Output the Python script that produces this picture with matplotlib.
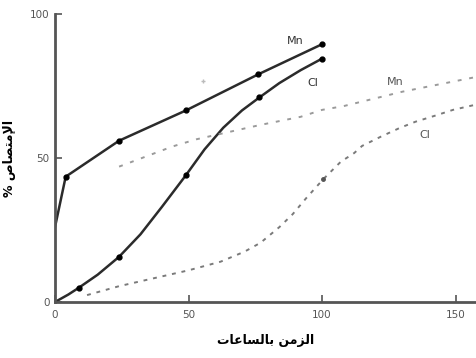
import matplotlib
matplotlib.use("Agg")
import matplotlib.pyplot as plt

# solid curves (first run) - markers
mn_x = [4, 24, 49, 76, 100]
mn_y = [43.5, 56, 66.5, 79, 89.5]
mn_line_x = [0, 4, 24, 49, 76, 100]
mn_line_y = [26, 43.5, 56, 66.5, 79, 89.5]

cl_x = [9, 24, 49, 76.5, 100]
cl_y = [5, 15.7, 44, 71, 84.5]
cl_line_x = [0, 5, 9, 16, 24, 32, 40, 49, 56, 63, 70, 76.5, 84, 92, 100]
cl_line_y = [0, 2.6, 5, 9.5, 15.7, 23.5, 33, 44, 53, 60.5, 66.5, 71, 76, 80.5, 84.5]

# dotted curves (second run)
mn2_x = [24, 44, 53, 77, 92, 100, 108, 130, 157]
mn2_y = [47, 54, 56.5, 61.5, 64.3, 66.7, 68, 73, 78]
cl2_x = [12, 24, 50, 62, 71, 77, 84, 89, 94, 100.5, 107, 112, 115, 122, 129, 135, 142, 149, 157]
cl2_y = [2.4, 5.5, 11, 14, 17.5, 20.6, 26, 30.5, 36, 42.7, 48.7, 51.7, 54.2, 57.4, 60.4, 62.6, 64.6, 66.7, 68.4]

xticks = [0, 50, 100, 150]
yticks = [0, 50, 100]

# arabic labels in visual (presentation form) order
xlabel = "\ufe95\ufe8e\ufecb\ufe8e\ufeb4\ufedf\ufe8e\ufe91 \ufee6\ufee3\ufeb0\ufedf\ufe8d"
ylabel = "% \ufeb9\ufe8e\ufebc\ufe98\ufee3\ufef9\ufe8d"

dark = "#2b2b2b"
grey = "#9a9a9a"

fig = plt.figure(figsize=(4.77, 3.58), dpi=100)
ax = fig.add_axes([0.1153, 0.1564, 0.8847, 0.8046])

ax.plot(mn_line_x, mn_line_y, color=dark, lw=1.8)
ax.plot(mn_x, mn_y, "o", color="black", ms=3.5)
ax.plot(cl_line_x, cl_line_y, color=dark, lw=1.8)
ax.plot(cl_x, cl_y, "o", color="black", ms=3.5)

ax.plot(mn2_x, mn2_y, color=grey, lw=1.4, ls=(0, (2, 4)))
ax.plot(cl2_x, cl2_y, color="#7a7a7a", lw=1.4, ls=(0, (2, 3)))
ax.plot([100.5], [42.7], "o", color="#555555", ms=2.5)
ax.plot([55.4], [76.7], "+", color="#bbbbbb", ms=3)

ax.text(90, 89, "Mn", fontsize=8, color="#333333", ha="center", va="bottom")
ax.text(96.5, 76, "Cl", fontsize=8, color="#333333", ha="center", va="center")
ax.text(127.5, 76.5, "Mn", fontsize=8, color="#555555", ha="center", va="center")
ax.text(138.5, 58, "Cl", fontsize=8, color="#555555", ha="center", va="center")

ax.set_xlim(0, 158)
ax.set_ylim(0, 100)
ax.set_xticks(xticks)
ax.set_yticks(yticks)
ax.tick_params(direction="in", length=5, width=1.2, colors="#555555", labelsize=7.5)
ax.tick_params(axis="x", pad=6)
ax.tick_params(axis="y", pad=4)
for s in ["top", "right"]:
    ax.spines[s].set_visible(False)
for s in ["left", "bottom"]:
    ax.spines[s].set_color("#555555")
    ax.spines[s].set_linewidth(2)

ax.set_xlabel(xlabel, fontsize=9, fontweight="bold", family="DejaVu Sans", labelpad=10)
ax.set_ylabel(ylabel, fontsize=9, fontweight="bold", family="DejaVu Sans", labelpad=10)

fig.savefig("out.png", dpi=100)
